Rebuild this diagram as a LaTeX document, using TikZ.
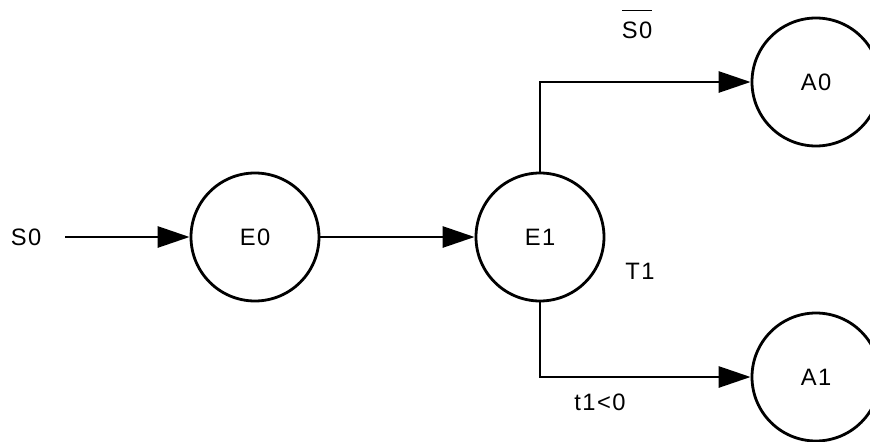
\documentclass[tikz,border=0pt]{standalone}
\usepackage{fontspec}
\setmainfont{Liberation Sans}[LetterSpace=6]
\usetikzlibrary{arrows.meta}

\begin{document}
\begin{tikzpicture}[-{Triangle[length=6.4mm, width=4.2mm]}, line width=1.6pt,
    font=\fontsize{13.5}{16}\selectfont,
    stbox/.style={circle, draw, line width=1.6pt, minimum size=2.56cm, inner sep=0pt}]
    \useasboundingbox (0,0) rectangle (17.4,8.82);
    \node (S0) at (0.52,4.08) {S0};
    \coordinate (in) at (1.30,4.08);
    \node[stbox] (E0) at (5.10,4.08) {E0};
    \node[stbox] (E1) at (10.80,4.08) {E1};
    \node[stbox] (A0) at (16.32,7.18) {A0};
    \node[stbox] (A1) at (16.32,1.28) {A1};
    \node[anchor=base] (nS0) at (12.74,8.06) {$\overline{\hbox{S0}\rule{0pt}{14.5pt}}$};
    \node (T1) at (12.80,3.40) {T1};
    \node (t1) at (12.00,0.78) {t1<0};
    \draw (in) -- (E0); \draw (E0) -- (E1);
    \draw (E1) |- (A0); \draw (E1) |- (A1);
  \end{tikzpicture}
\end{document}
